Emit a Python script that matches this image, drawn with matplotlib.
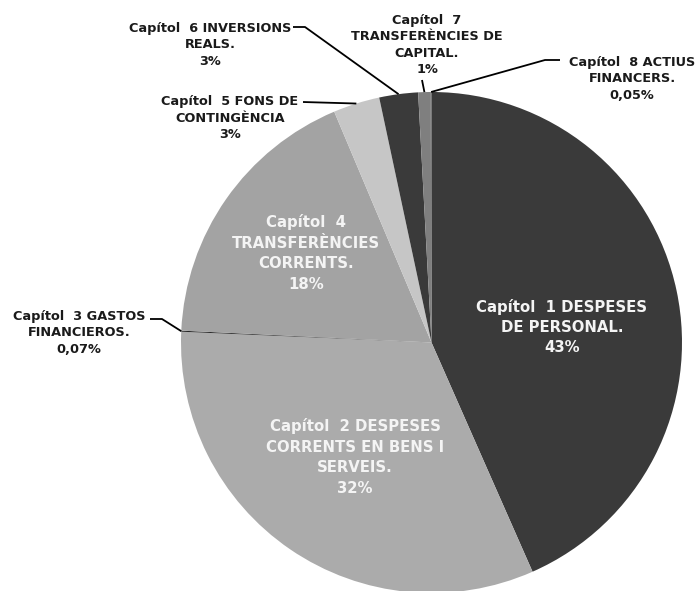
import numpy as np
import matplotlib.pyplot as plt

# Budget chapters (clockwise from the top)
names = ['Capítol  1 DESPESES\nDE PERSONAL.',
         'Capítol  2 DESPESES\nCORRENTS EN BENS I\nSERVEIS.',
         'Capítol  3 GASTOS\nFINANCIEROS.',
         'Capítol  4\nTRANSFERÈNCIES\nCORRENTS.',
         'Capítol  5 FONS DE\nCONTINGÈNCIA',
         'Capítol  6 INVERSIONS\nREALS.',
         'Capítol  7\nTRANSFERÈNCIES DE\nCAPITAL.',
         'Capítol  8 ACTIUS\nFINANCERS.']
values = [43.4, 32.3, 0.07, 17.9, 3.0, 2.5, 0.8, 0.05]
pct_labels = ['43%', '32%', '0,07%', '18%', '3%', '3%', '1%', '0,05%']
colors = ['#3a3a3a', '#ababab', '#262626', '#a3a3a3',
          '#c6c6c6', '#3a3a3a', '#7f7f7f', '#595959']
inside = [True, True, False, True, False, False, False, False]

W, H = 699, 591
cx, cy, r = 431.5, H - 342.5, 250.5

fig = plt.figure(figsize=(W / 100, H / 100), dpi=100)
ax = fig.add_axes([0, 0, 1, 1])
wedges, _ = ax.pie(values, colors=colors, startangle=90, counterclock=False,
                   center=(cx, cy), radius=r, wedgeprops=dict(linewidth=0))
ax.set_xlim(0, W)
ax.set_ylim(0, H)
ax.set_aspect('equal')
ax.axis('off')

# label centres in pixels from the top-left
label_pos = [(562, 327), (355, 457), (79, 333), (306, 253),
             (230, 118), (210, 45), (427, 45), (632, 79)]

for i, w in enumerate(wedges):
    x, y = label_pos[i]
    txt = names[i] + '\n' + pct_labels[i]
    if inside[i]:
        ax.text(x, H - y, txt, ha='center', va='center', color='#f4f4f4',
                fontsize=10.7, fontweight='bold', linespacing=1.45)
    else:
        ax.text(x, H - y, txt, ha='center', va='center', color='#1a1a1a',
                fontsize=9.3, fontweight='bold', linespacing=1.33)

# leader lines: label end -> wedge edge
leader_start = {2: [(150, 319), (162, 319)],
                4: [(303, 102)],
                5: [(293, 27), (305, 27)],
                6: [(422, 80)],
                7: [(560, 60), (545, 60)]}
for i, pts in leader_start.items():
    w = wedges[i]
    a = np.deg2rad((w.theta1 + w.theta2) / 2)
    ex, ey = cx + r * np.cos(a), cy + r * np.sin(a)
    xs = [p[0] for p in pts] + [ex]
    ys = [H - p[1] for p in pts] + [ey]
    ax.plot(xs, ys, color='black', lw=1.3, solid_capstyle='butt')

plt.savefig('out.png', dpi=100)
